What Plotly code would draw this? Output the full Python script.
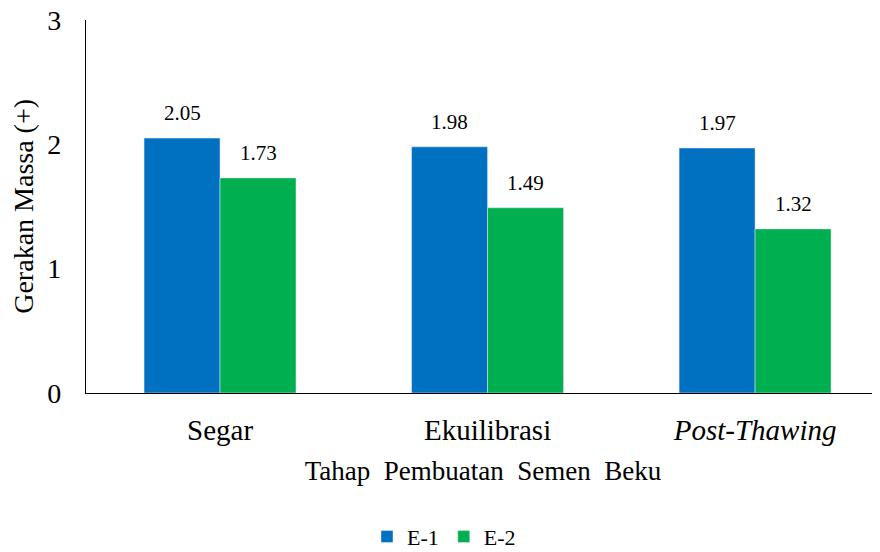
import plotly.graph_objects as go

categories = ["Segar", "Ekuilibrasi", "<i>Post-Thawing</i>"]
e1_values = [2.05, 1.98, 1.97]
e2_values = [1.73, 1.49, 1.32]
y_ticks = [0, 1, 2, 3]

font = "Liberation Serif"
x = [0, 1, 2]
bargap = 0.432
half = (1 - bargap) / 4  # centre offset of each bar within its group

fig = go.Figure()
fig.add_trace(go.Bar(x=x, y=e1_values, name="E-1", marker_color="#0070C0"))
fig.add_trace(go.Bar(x=x, y=e2_values, name="E-2", marker_color="#00B050"))

for xi, v in zip(x, e1_values):
    fig.add_annotation(x=xi - half, y=v, text=f"{v:.2f}", showarrow=False, yanchor="bottom",
                       yshift=11, font=dict(size=21, color="black", family=font))
for xi, v in zip(x, e2_values):
    fig.add_annotation(x=xi + half, y=v, text=f"{v:.2f}", showarrow=False, yanchor="bottom",
                       yshift=11, font=dict(size=21, color="black", family=font))

# y-axis title
fig.add_annotation(text="Gerakan Massa (+)", xref="paper", yref="paper", x=-0.079, y=0.5,
                   xanchor="center", yanchor="middle", textangle=-90, showarrow=False,
                   font=dict(size=28, color="black", family=font))

fig.update_layout(
    width=872, height=544,
    margin=dict(l=78, r=0, t=12, b=159, autoexpand=False),
    barmode="group", bargap=bargap, bargroupgap=0,
    plot_bgcolor="white", paper_bgcolor="white",
    font=dict(family=font, color="black"),
    showlegend=True,
    legend=dict(orientation="h", x=0.5, xanchor="center", xref="container",
                y=0.028, yanchor="middle", yref="container",
                font=dict(size=22, family=font), traceorder="normal"),
    xaxis=dict(tickmode="array", tickvals=x, ticktext=categories, range=[-0.501, 2.467],
               showline=True, linecolor="black", linewidth=1.3, ticks="", automargin=False,
               tickfont=dict(size=29, family=font), ticklabelstandoff=11,
               title=dict(text="Tahap  Pembuatan  Semen  Beku", font=dict(size=27, family=font), standoff=16),
               showgrid=False, zeroline=False),
    yaxis=dict(range=[0, 3], tickvals=y_ticks, showline=True, linecolor="black", linewidth=1.3,
               ticks="", tickfont=dict(size=28, family=font), ticklabelstandoff=18, automargin=False,
               ticklabeloverflow="allow",
               showgrid=False, zeroline=False),
)

fig.write_html("out.html")
